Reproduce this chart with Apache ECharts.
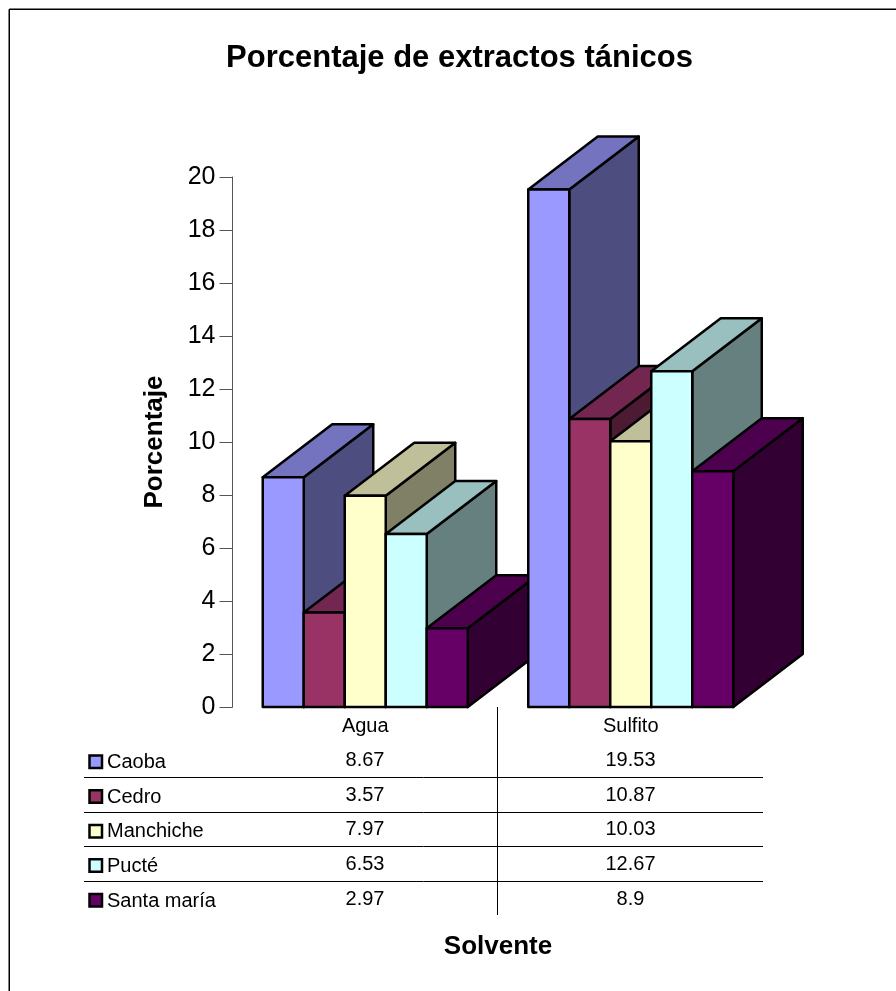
<!DOCTYPE html>
<html>
<head>
<meta charset="utf-8">
<style>html,body{margin:0;padding:0;background:#fff}#chart{width:896px;height:991px}</style>
<script src="https://cdn.jsdelivr.net/npm/echarts@6/dist/echarts.min.js"></script>
</head>
<body>
<div id="chart"></div>
<script>
// Tannin extract percentages per wood species and solvent
const solvents = ['Agua', 'Sulfito'];
const species = ['Caoba', 'Cedro', 'Manchiche', 'Pucté', 'Santa maría'];
const caoba = [8.67, 19.53];
const cedro = [3.57, 10.87];
const manchiche = [7.97, 10.03];
const pucte = [6.53, 12.67];
const santaMaria = [2.97, 8.9];
const valueTicks = [0, 2, 4, 6, 8, 10, 12, 14, 16, 18, 20];

// Front, top and side shades for each species
const frontColors = ['#9999FF', '#993366', '#FFFFCC', '#CCFFFF', '#660066'];
const topColors = ['#7373BF', '#732650', '#BFBF99', '#99BFBF', '#4D004D'];
const sideColors = ['#4D4D80', '#4D1A33', '#808066', '#668080', '#330033'];

const allValues = [caoba, cedro, manchiche, pucte, santaMaria];
const FONT = '"Liberation Sans", Arial, sans-serif';
const BAR_W = 41, DEPTH_X = 69.5, DEPTH_Y = 53;
const TABLE_LEFT = 84, TABLE_RIGHT = 763, AXIS_Y = 707, TABLE_BOTTOM = 915;
const ROW_LINES = [777.5, 812.5, 846.5, 881.5];
const ROW_TEXT_Y = [760.5, 795, 829.5, 864, 899];
const COL_X = [365, 630.5];
const SWATCH_Y = [755.6, 790.3, 825, 859.3, 894];

// One extruded bar: back faces first so the front edge stays on top
function renderBar(seriesIndex) {
  return function (params, api) {
    const cat = api.value(0);
    const top = api.coord([cat, api.value(1)]);
    const base = api.coord([cat, 0]);
    const x0 = top[0] + (seriesIndex - 2.5) * BAR_W;
    const x1 = x0 + BAR_W;
    const yT = top[1], yB = base[1];
    const order = cat * 10 + seriesIndex;
    const edge = { stroke: '#000', lineWidth: 2.5, lineJoin: 'round' };
    const face = (pts, fill) => ({
      type: 'polygon',
      z2: order,
      shape: { points: pts },
      style: Object.assign({ fill }, edge)
    });
    return {
      type: 'group',
      children: [
        face([[x1, yT], [x1 + DEPTH_X, yT - DEPTH_Y], [x1 + DEPTH_X, yB - DEPTH_Y], [x1, yB]], sideColors[seriesIndex]),
        face([[x0, yT], [x1, yT], [x1 + DEPTH_X, yT - DEPTH_Y], [x0 + DEPTH_X, yT - DEPTH_Y]], topColors[seriesIndex]),
        face([[x0, yT], [x1, yT], [x1, yB], [x0, yB]], frontColors[seriesIndex])
      ]
    };
  };
}

// Data table under the plot, with its legend keys
const tableGraphics = [];
const hLine = (x1, y1, x2, y2, w) => ({
  type: 'line', silent: true,
  shape: { x1, y1, x2, y2 },
  style: { stroke: '#000', lineWidth: w || 1 }
});
ROW_LINES.forEach(y => tableGraphics.push(hLine(TABLE_LEFT, y, TABLE_RIGHT, y)));
tableGraphics.push(hLine(497.5, AXIS_Y, 497.5, TABLE_BOTTOM));
species.forEach((name, i) => {
  tableGraphics.push({
    type: 'rect', silent: true,
    shape: { x: 89.5, y: SWATCH_Y[i], width: 12.5, height: 12.5 },
    style: { fill: frontColors[i], stroke: '#000', lineWidth: 2.5 }
  });
  tableGraphics.push({
    type: 'text', silent: true, x: 107, y: ROW_TEXT_Y[i] + 2,
    style: { text: name, fill: '#000', font: '20px ' + FONT, textVerticalAlign: 'middle' }
  });
  solvents.forEach((s, c) => {
    tableGraphics.push({
      type: 'text', silent: true, x: COL_X[c], y: ROW_TEXT_Y[i],
      style: {
        text: String(allValues[i][c]), fill: '#000', font: '20px ' + FONT,
        textAlign: 'center', textVerticalAlign: 'middle'
      }
    });
  });
});
// Chart frame: the top and left edges
tableGraphics.push(hLine(9.25, 9.25, 896, 9.25, 1.5));
tableGraphics.push(hLine(9.25, 9.25, 9.25, 991, 1.5));

const chart = echarts.init(document.getElementById('chart'), null, { renderer: 'canvas' });
chart.setOption({
  animation: false,
  backgroundColor: '#fff',
  title: {
    text: 'Porcentaje de extractos tánicos',
    left: 454.5, top: 38, textAlign: 'center',
    textStyle: { fontFamily: FONT, fontSize: 31, fontWeight: 'bold', color: '#000' }
  },
  grid: { left: 232.5, top: 177, width: 531, height: 530, containLabel: false },
  xAxis: {
    type: 'category',
    data: solvents,
    name: 'Solvente',
    nameLocation: 'middle',
    nameGap: 227,
    nameTextStyle: { fontFamily: FONT, fontSize: 26, fontWeight: 'bold', color: '#000' },
    axisLine: { show: false },
    axisTick: { show: false },
    axisLabel: { fontFamily: FONT, fontSize: 20, color: '#000', margin: 9 }
  },
  yAxis: {
    type: 'value',
    min: 0, max: 20, interval: valueTicks[1] - valueTicks[0],
    name: 'Porcentaje',
    nameLocation: 'middle',
    nameGap: 65,
    nameTextStyle: { fontFamily: FONT, fontSize: 26, fontWeight: 'bold', color: '#000' },
    axisLine: { show: true, lineStyle: { color: '#555', width: 1 } },
    axisTick: { show: true, length: 13, lineStyle: { color: '#555', width: 1 } },
    axisLabel: { fontFamily: FONT, fontSize: 25, color: '#000', margin: 17 },
    splitLine: { show: false }
  },
  series: species.map((name, i) => ({
    type: 'custom',
    name,
    coordinateSystem: 'cartesian2d',
    renderItem: renderBar(i),
    encode: { x: 0, y: 1 },
    data: solvents.map((s, c) => [c, allValues[i][c]])
  })),
  graphic: tableGraphics
});
</script>
</body>
</html>
